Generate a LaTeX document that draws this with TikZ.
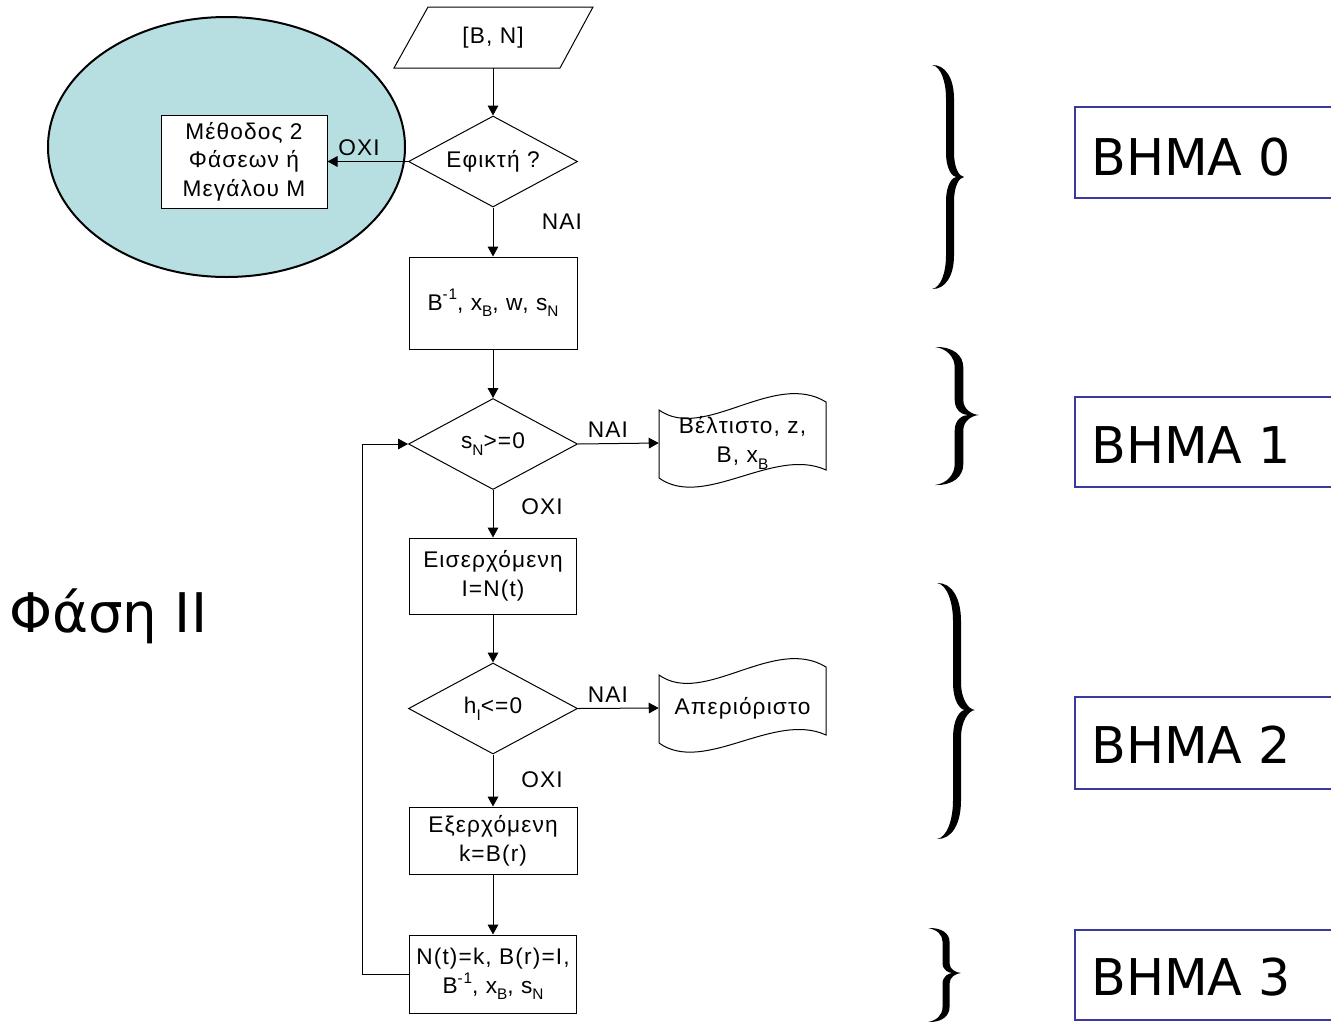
\documentclass[tikz,border=0pt]{standalone}
\usepackage{fontspec}
\setmainfont{Liberation Sans}
\newfontfamily\flowfont{Liberation Sans}[LetterSpace=5]
\newfontfamily\stepfont{DejaVu Sans}
\usetikzlibrary{shapes.geometric,arrows.meta,calc}
\definecolor{lagoon}{RGB}{183,222,224}
\definecolor{stepblue}{RGB}{58,58,158}
\newcommand{\lo}[1]{\raisebox{-0.55ex}{\fontsize{11.5}{11.5}\selectfont #1}}
\newcommand{\hi}[1]{\raisebox{0.85ex}{\fontsize{11.5}{11.5}\selectfont #1}}
\def\pxu{*0.75pt}
% filled curly brace: x0 xa xt ytop ymid ybot halfthick
\newcommand{\bracefill}[7]{%
 \fill (#1,#4)
  .. controls ({#1+0.75*(#2-#1)},{#4-0.5}) and ({#2+#7},{#4+0.12*(#5-#4)}) .. ({#2+#7},{#4+0.3*(#5-#4)})
  -- ({#2+#7},{#5-0.22*(#5-#4)})
  .. controls ({#2+#7},{#5-0.08*(#5-#4)}) and ({#3-0.35*(#3-#2)},{#5-0.5}) .. (#3,#5)
  .. controls ({#3-0.35*(#3-#2)},{#5+0.5}) and ({#2+#7},{#5+0.08*(#6-#5)}) .. ({#2+#7},{#5+0.22*(#6-#5)})
  -- ({#2+#7},{#6-0.3*(#6-#5)})
  .. controls ({#2+#7},{#6-0.12*(#6-#5)}) and ({#1+0.75*(#2-#1)},{#6+0.5}) .. (#1,#6)
  .. controls ({#1+0.5*(#2-#1)},{#6-1.5}) and ({#2-#7},{#6-0.15*(#6-#5)}) .. ({#2-#7},{#6-0.3*(#6-#5)})
  -- ({#2-#7},{#5+0.22*(#6-#5)})
  .. controls ({#2-#7},{#5+0.06*(#6-#5)}) and ({#2+0.2*(#3-#2)},#5) .. ({#2+0.45*(#3-#2)},#5)
  .. controls ({#2+0.2*(#3-#2)},#5) and ({#2-#7},{#5-0.06*(#5-#4)}) .. ({#2-#7},{#5-0.22*(#5-#4)})
  -- ({#2-#7},{#4+0.3*(#5-#4)})
  .. controls ({#2-#7},{#4+0.15*(#5-#4)}) and ({#1+0.5*(#2-#1)},{#4+1.5}) .. (#1,#4) -- cycle;}
% tape (document) outline centred at cx,cy
\newcommand{\tapeshape}[2]{%
 \draw[edge] ({#1-83.5},{#2-34}) -- ({#1-83.5},{#2+34})
  .. controls ({#1-38.5},{#2+66}) and ({#1+31.5},{#2+2}) .. ({#1+83.5},{#2+26})
  -- ({#1+83.5},{#2-42})
  .. controls ({#1+31.5},{#2-74}) and ({#1-38.5},{#2-2}) .. ({#1-83.5},{#2-34}) -- cycle;}
\tikzset{
 edge/.style={line width=0.75pt, draw=black},
 flow/.style={font=\flowfont\fontsize{17}{21.5}\selectfont, align=center, inner sep=0pt},
 box/.style={flow, edge, rectangle},
 diam/.style={flow, edge, diamond, aspect=1.857, minimum width=169\pxu, minimum height=91\pxu},
 arr/.style={edge, -{Triangle[length=7.5pt,width=8pt]}},
 lab/.style={flow},
 stepbox/.style={draw=stepblue, line width=2.2pt},
 steptext/.style={font=\stepfont\fontsize{38}{40}\selectfont, inner sep=0pt, anchor=base west}
}
\begin{document}
\begin{tikzpicture}[x=0.75pt,y=-0.75pt]
\fill[white] (0,0) rectangle (1331,1021);
\clip (0,0) rectangle (1331,1021);

% left oval
\node[ellipse, draw, line width=1.5pt, fill=lagoon, minimum width=357\pxu, minimum height=260\pxu] (oval) at (226.5,147) {};

% flowchart nodes
\draw[edge] (394,68) -- (428,7) -- (593,7) -- (560,68) -- cycle;
\node[flow, minimum width=166\pxu, minimum height=61\pxu] (bn) at (493,37.5) {[B, N]};
\node[diam] (feas) at (493,161.5) {Εφικτή ?};
\node[box, fill=white, minimum width=166\pxu, minimum height=93\pxu] (meth) at (244,161.5) {Μέθοδος 2\\Φάσεων ή\\Μεγάλου M};
\node[box, minimum width=168\pxu, minimum height=92\pxu] (init) at (493,303) {B\hi{-1}, x\lo{B}, w, s\lo{N}};
\node[diam] (opt) at (493,444) {s\lo{N}>=0};
\tapeshape{742.5}{444}
\node[flow, minimum width=167\pxu, minimum height=68\pxu] (best) at (742.5,443) {Βέλτιστο, z,\\B, x\lo{B}};
\node[box, minimum width=167\pxu, minimum height=76\pxu] (enter) at (493,576) {Εισερχόμενη\\I=N(t)};
\node[diam] (unb) at (493,708.5) {h\lo{I}<=0};
\tapeshape{742.5}{709}
\node[flow, minimum width=167\pxu, minimum height=68\pxu] (unbd) at (742.5,708) {Απεριόριστο};
\node[box, minimum width=168\pxu, minimum height=67\pxu] (leave) at (493,840.5) {Εξερχόμενη\\k=B(r)};
\node[box, minimum width=167\pxu, minimum height=78\pxu] (upd) at (493,974) {N(t)=k, B(r)=I,\\B\hi{-1}, x\lo{B}, s\lo{N}};
\coordinate (loopx) at (362,974);

% connectors
\draw[arr] (bn.south) -- (feas.north);
\draw[arr] (feas.west) -- (meth.east);
\draw[arr] (feas.south) -- (init.north);
\draw[arr] (init.south) -- (opt.north);
\draw[arr] (opt.east) -- (best.west);
\draw[arr] (opt.south) -- (enter.north);
\draw[arr] (enter.south) -- (unb.north);
\draw[arr] (unb.east) -- (unbd.west);
\draw[arr] (unb.south) -- (leave.north);
\draw[arr] (leave.south) -- (upd.north);
\draw[arr] (upd.west) -- (loopx) |- (opt.west);

% labels
\node[lab] (l1) at (359,148) {OXI};
\node[lab] (l2) at (562,222) {NAI};
\node[lab] (l3) at (608,430) {NAI};
\node[lab] (l4) at (542,507) {OXI};
\node[lab] (l5) at (608,695) {NAI};
\node[lab] (l6) at (542,780) {OXI};

% phase label
\node[font=\stepfont\fontsize{41}{44}\selectfont, inner sep=0pt, anchor=base west] (phase) at (9,632) {Φάση II};

% braces
\bracefill{932}{950}{964}{65}{177}{289}{4}
\bracefill{935}{959}{979}{347}{415}{485}{4.3}
\bracefill{937}{957}{975}{583}{710}{839}{4}
\bracefill{928}{946}{961}{928}{973}{1022}{3.5}

% step boxes
\draw[stepbox] (1075,107) rectangle (1345,198);
\draw[stepbox] (1075,397) rectangle (1345,487);
\draw[stepbox] (1075,697) rectangle (1345,789);
\draw[stepbox] (1075,930) rectangle (1345,1020);
\node[steptext] (s0) at (1091,175) {BHMA 0};
\node[steptext] (s1) at (1091,463) {BHMA 1};
\node[steptext] (s2) at (1091,763) {BHMA 2};
\node[steptext] (s3) at (1091,995) {BHMA 3};
\end{tikzpicture}
\end{document}
